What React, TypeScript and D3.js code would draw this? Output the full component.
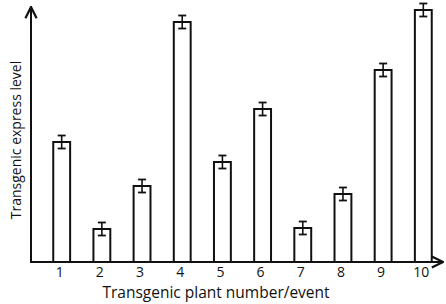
import { useEffect, useRef } from 'react';
import * as d3 from 'd3';

// plant events and their (unitless) expression levels
const events = ['1', '2', '3', '4', '5', '6', '7', '8', '9', '10'];
const levels = [120, 33, 76, 240, 100, 153, 34, 68, 192, 252];
const errors = [6.5, 6.5, 6.5, 6.5, 6.5, 6.5, 6.5, 6.5, 6.5, 6.5];

const W = 446;
const H = 304;
const FONT = '"Open Sans", "Liberation Sans", sans-serif';

export default function App() {
  const svgRef = useRef<SVGSVGElement>(null);

  useEffect(() => {
    if (!svgRef.current) return;
    const svg = d3.select(svgRef.current);
    svg.selectAll('*').remove();

    const axisX = 31;
    const baseY = 262;

    const x = d3.scaleBand<string>().domain(events).range([42, 443]).paddingInner(0.58).paddingOuter(0.28);
    const y = d3.scaleLinear().domain([0, 262]).range([baseY, 0]);

    // arrow marker
    const defs = svg.append('defs');
    defs
      .append('marker')
      .attr('id', 'arrow')
      .attr('viewBox', '0 0 10 10')
      .attr('refX', 9)
      .attr('refY', 5)
      .attr('markerWidth', 7)
      .attr('markerHeight', 7)
      .attr('orient', 'auto')
      .append('path')
      .attr('d', 'M1,1 L9,5 L1,9')
      .attr('fill', 'none')
      .attr('stroke', '#111')
      .attr('stroke-width', 1.6);

    const g = svg.append('g');

    // bars
    g.selectAll('rect.bar')
      .data(levels)
      .enter()
      .append('rect')
      .attr('class', 'bar')
      .attr('x', (_d, i) => x(events[i])!)
      .attr('y', (d) => y(d))
      .attr('width', x.bandwidth())
      .attr('height', (d) => baseY - y(d))
      .attr('fill', '#fff')
      .attr('stroke', '#111')
      .attr('stroke-width', 2);

    // error bars
    const eb = g
      .selectAll('g.err')
      .data(levels)
      .enter()
      .append('g')
      .attr('class', 'err')
      .attr('transform', (_d, i) => `translate(${x(events[i])! + x.bandwidth() / 2},0)`);
    eb.append('line')
      .attr('y1', (d, i) => y(d + errors[i]))
      .attr('y2', (d, i) => y(d - errors[i]))
      .attr('stroke', '#111')
      .attr('stroke-width', 1.6);
    [1, -1].forEach((s) => {
      eb.append('line')
        .attr('x1', -4)
        .attr('x2', 4)
        .attr('y1', (d, i) => y(d + s * errors[i]))
        .attr('y2', (d, i) => y(d + s * errors[i]))
        .attr('stroke', '#111')
        .attr('stroke-width', 1.8);
    });

    // axes
    svg.append('line')
      .attr('x1', axisX)
      .attr('x2', axisX)
      .attr('y1', baseY + 1)
      .attr('y2', 7)
      .attr('stroke', '#111')
      .attr('stroke-width', 2)
      .attr('marker-end', 'url(#arrow)');
    svg.append('line')
      .attr('x1', axisX - 1)
      .attr('x2', 443)
      .attr('y1', baseY)
      .attr('y2', baseY)
      .attr('stroke', '#111')
      .attr('stroke-width', 2)
      .attr('marker-end', 'url(#arrow)');

    // tick labels
    svg.selectAll('text.tick')
      .data(events)
      .enter()
      .append('text')
      .attr('class', 'tick')
      .attr('x', (d) => x(d)! + x.bandwidth() / 2 - 2)
      .attr('y', 277)
      .attr('text-anchor', 'middle')
      .attr('font-family', FONT)
      .attr('font-size', 14)
      .attr('fill', '#111')
      .text((d) => d);

    svg.append('text')
      .attr('x', 216)
      .attr('y', 298)
      .attr('text-anchor', 'middle')
      .attr('font-family', FONT)
      .attr('font-size', 15.5)
      .attr('fill', '#111')
      .text('Transgenic plant number/event');

    svg.append('text')
      .attr('transform', 'translate(21,140) rotate(-90)')
      .attr('text-anchor', 'middle')
      .attr('font-family', FONT)
      .attr('font-size', 14)
      .attr('fill', '#111')
      .text('Transgenic express level');
  }, []);

  return (
    <svg
      ref={svgRef}
      width={W}
      height={H}
      style={{ position: 'absolute', left: 0, top: 0, background: '#fff' }}
    />
  );
}
